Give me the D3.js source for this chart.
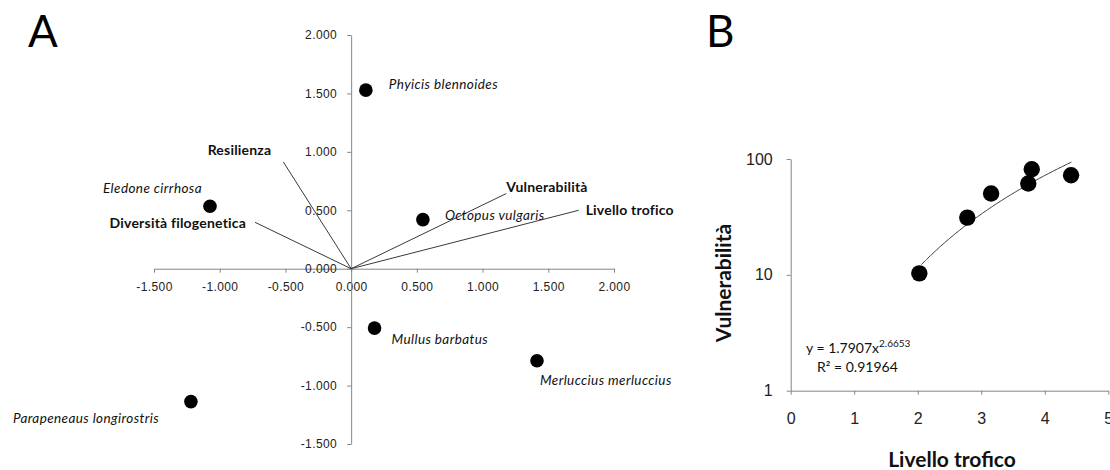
<!DOCTYPE html>
<html>
<head>
<meta charset="utf-8">
<script src="https://cdn.jsdelivr.net/npm/d3@7"></script>
<style>
  body { margin: 0; background: #fff; }
  svg { font-family: Lato, "Liberation Sans", sans-serif; }
  .axis path, .axis line { stroke: #868686; }
  .axis text { fill: #222; }
</style>
</head>
<body>
<svg id="chart" width="1110" height="470"></svg>
<script>
// panel A: PCA biplot
const speciesNames = ["Phyicis blennoides", "Eledone cirrhosa", "Octopus vulgaris",
  "Mullus barbatus", "Merluccius merluccius", "Parapeneaus longirostris"];
const speciesX = [0.112, -1.074, 0.546, 0.178, 1.414, -1.219];
const speciesY = [1.528, 0.534, 0.420, -0.508, -0.788, -1.137];

const vectorNames = ["Resilienza", "Diversità filogenetica", "Vulnerabilità", "Livello trofico"];
const vectorX = [-0.516, -0.731, 1.180, 1.731];
const vectorY = [0.914, 0.397, 0.643, 0.500];

const axisTicksA = [-1.5, -1.0, -0.5, 0, 0.5, 1.0, 1.5, 2.0];

// panel B: vulnerability vs trophic level
const trophicLevel = [2.025, 2.78, 3.155, 3.74, 3.795, 4.414];
const vulnerability = [10.3, 31.2, 50.3, 61.4, 81.5, 72.3];
const fitCoef = 1.7907, fitExp = 2.6653, fitR2 = 0.91964;
const fitRange = [2.06, 4.43];
const xTicksB = [0, 1, 2, 3, 4, 5];
const yTicksB = [1, 10, 100];

// label offsets (px) for species and vectors
const speciesLabelPos = [[23, -1, "start"], [-107, -13, "start"], [22, 0, "start"],
  [17, 16, "start"], [3, 24, "start"], [-178, 21, "start"]];
const vectorLabelPos = [[-12, -7, "end"], [-9, 6, "end"], [0, -2, "start"], [7, 5, "start"]];

const svg = d3.select("#chart");

// ---------- panel A ----------
const xA = d3.scaleLinear().domain([-1.5, 2]).range([154, 614]);
const yA = d3.scaleLinear().domain([-1.5, 2]).range([444, 35]);
const fmtA = d => d.toFixed(3);

svg.append("g").attr("class", "axis")
  .attr("transform", `translate(0,${yA(0)})`)
  .call(d3.axisBottom(xA).tickValues(axisTicksA).tickFormat(fmtA).tickSizeInner(4).tickSizeOuter(0).tickPadding(10))
  .call(g => g.selectAll("text").attr("font-size", 12).attr("letter-spacing", 0.4));

svg.append("g").attr("class", "axis")
  .attr("transform", `translate(${xA(0)},0)`)
  .call(d3.axisLeft(yA).tickValues(axisTicksA).tickFormat(fmtA).tickSizeInner(4).tickSizeOuter(0).tickPadding(10))
  .call(g => g.selectAll("text").attr("font-size", 12).attr("letter-spacing", 0.4));

svg.selectAll("line.vec")
  .data(vectorNames)
  .join("line")
  .attr("class", "vec")
  .attr("x1", xA(0)).attr("y1", yA(0))
  .attr("x2", (d, i) => xA(vectorX[i]))
  .attr("y2", (d, i) => yA(vectorY[i]))
  .attr("stroke", "#222").attr("stroke-width", 0.9);

svg.selectAll("text.vec")
  .data(vectorNames)
  .join("text")
  .attr("class", "vec")
  .attr("x", (d, i) => xA(vectorX[i]) + vectorLabelPos[i][0])
  .attr("y", (d, i) => yA(vectorY[i]) + vectorLabelPos[i][1])
  .attr("text-anchor", (d, i) => vectorLabelPos[i][2])
  .attr("font-size", 14).attr("font-weight", "bold").attr("fill", "#111")
  .attr("letter-spacing", 0.2)
  .text(d => d);

svg.selectAll("circle.sp")
  .data(speciesNames)
  .join("circle")
  .attr("class", "sp")
  .attr("cx", (d, i) => xA(speciesX[i]))
  .attr("cy", (d, i) => yA(speciesY[i]))
  .attr("r", 6.8).attr("fill", "#000");

svg.selectAll("text.sp")
  .data(speciesNames)
  .join("text")
  .attr("class", "sp")
  .attr("x", (d, i) => xA(speciesX[i]) + speciesLabelPos[i][0])
  .attr("y", (d, i) => yA(speciesY[i]) + speciesLabelPos[i][1])
  .attr("text-anchor", (d, i) => speciesLabelPos[i][2])
  .attr("font-size", 13.5).attr("font-style", "italic").attr("fill", "#111")
  .attr("letter-spacing", 0.4)
  .text(d => d);

svg.append("text").attr("x", 28).attr("y", 47)
  .attr("font-size", 44).attr("fill", "#000").text("A");

// ---------- panel B ----------
const xB = d3.scaleLinear().domain([0, 5]).range([790.7, 1108.3]);
const yB = d3.scaleLog().domain([1, 100]).range([390.7, 159]);

svg.append("g").attr("class", "axis")
  .attr("transform", `translate(0,${yB(1)})`)
  .call(d3.axisBottom(xB).tickValues(xTicksB).tickFormat(d3.format("d")).tickSizeInner(4).tickSizeOuter(0).tickPadding(18))
  .call(g => g.selectAll("text").attr("font-size", 16));

svg.append("g").attr("class", "axis")
  .attr("transform", `translate(${xB(0)},0)`)
  .call(d3.axisLeft(yB).tickValues(yTicksB).tickFormat(d3.format("d")).tickSizeInner(4).tickSizeOuter(0).tickPadding(14))
  .call(g => g.selectAll("text").attr("font-size", 16));

const fitLine = d3.line().x(d => xB(d)).y(d => yB(fitCoef * Math.pow(d, fitExp)));
svg.append("path")
  .datum(d3.range(fitRange[0], fitRange[1] + 0.001, 0.02))
  .attr("d", fitLine)
  .attr("fill", "none").attr("stroke", "#222").attr("stroke-width", 0.9);

svg.selectAll("circle.pt")
  .data(trophicLevel)
  .join("circle")
  .attr("class", "pt")
  .attr("cx", d => xB(d))
  .attr("cy", (d, i) => yB(vulnerability[i]))
  .attr("r", 8.2).attr("fill", "#000");

const eq = svg.append("text").attr("x", 806).attr("y", 353)
  .attr("font-size", 14).attr("fill", "#111");
eq.append("tspan").text(`y = ${fitCoef}x`);
eq.append("tspan").attr("dy", -6).attr("font-size", 10).text(fitExp);
svg.append("text").attr("x", 817).attr("y", 372)
  .attr("font-size", 14).attr("fill", "#111")
  .text(`R² = ${fitR2}`);

svg.append("text")
  .attr("transform", `translate(731,283) rotate(-90)`)
  .attr("text-anchor", "middle")
  .attr("font-size", 21).attr("font-weight", "bold").attr("fill", "#111")
  .text("Vulnerabilità");

svg.append("text")
  .attr("x", 952).attr("y", 467)
  .attr("text-anchor", "middle")
  .attr("font-size", 21).attr("font-weight", "bold").attr("fill", "#111")
  .text("Livello trofico");

svg.append("text").attr("x", 706).attr("y", 47)
  .attr("font-size", 44).attr("fill", "#000").text("B");
</script>
</body>
</html>
